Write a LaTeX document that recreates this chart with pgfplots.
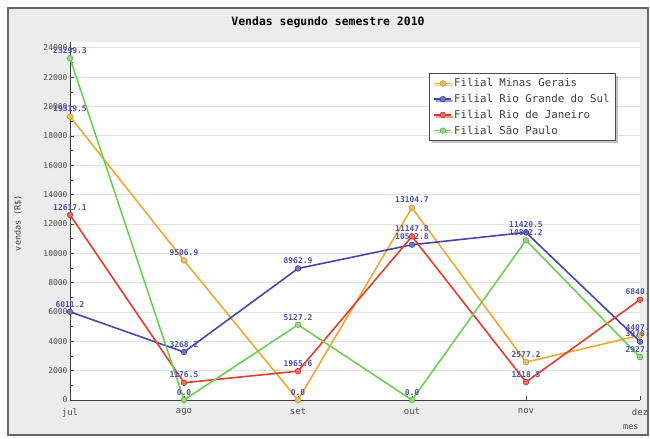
\documentclass[border=0pt]{standalone}
\usepackage{pgfplots}
\pgfplotsset{compat=1.18}
\usepackage{fontspec}
\setmainfont{DejaVu Sans Mono}
\usetikzlibrary{shadows}

\definecolor{framegray}{RGB}{236,236,236}
\definecolor{mgcol}{RGB}{238,168,52}
\definecolor{rgcol}{RGB}{72,72,172}
\definecolor{rjcol}{RGB}{226,62,46}
\definecolor{spcol}{RGB}{112,204,84}
\definecolor{lblcol}{RGB}{82,82,170}

\pgfplotsset{
  serie/.style={line width=1.6bp, color=#1, mark=*, mark size=2.8bp,
    mark options={fill=#1!75!white, draw=#1!85!black, line width=0.6bp}},
}

\begin{document}
\begin{tikzpicture}
% page and chart frame
\fill[white] (-70bp,-39bp) rectangle (580bp,400bp);
\filldraw[fill=framegray, draw=black!60, line width=1.6bp] (-62bp,-35bp) rectangle (578bp,392bp);
\node[font=\bfseries\fontsize{11.5}{13}\selectfont] at (258bp,378bp) {Vendas segundo semestre 2010};

\begin{axis}[
  scale only axis, width=570bp, height=358bp,
  at={(0,0)}, anchor=south west,
  xmin=0, xmax=5, ymin=0, ymax=24400,
  clip=false,
  axis background/.style={fill=white},
  axis x line=bottom, axis y line=left,
  axis line style={-, black!75, line width=0.8bp},
  xtick={0,...,5},
  xticklabels={jul,ago,set,out,nov,dez},
  ytick={0,2000,...,24000},
  scaled y ticks=false,
  minor y tick num=1,
  tick align=inside,
  major tick length=4bp, minor tick length=3bp,
  tick style={black!75, line width=0.7bp},
  ymajorgrids,
  grid style={black!12, line width=0.8bp},
  /pgf/number format/assume math mode=true,
  /pgf/number format/1000 sep={},
  x tick label style={font=\fontsize{9}{10}\selectfont, text=black!70, yshift=-5bp},
  y tick label style={font=\fontsize{8}{9}\selectfont, text=black!70, xshift=1bp},
  nodes near coords={\pgfmathprintnumber[fixed,fixed zerofill,precision=1,1000 sep={}]{\pgfplotspointmeta}},
  every node near coord/.append style={font=\bfseries\fontsize{8}{9}\selectfont, text=lblcol, anchor=south, yshift=1bp},
  legend style={at={(rel axis cs:0.63,0.913)}, anchor=north west,
    draw=black!70, line width=0.9bp, fill=white,
    drop shadow={shadow xshift=2bp, shadow yshift=-2bp, fill=black!45},
    font=\fontsize{10.8}{11}\selectfont, text=black!75,
    row sep=2bp, inner xsep=4bp, inner ysep=3bp},
  legend cell align=left,
]
\addplot[serie=mgcol] coordinates {(0,19319.5) (1,9506.9) (2,0.0) (3,13104.7) (4,2577.2) (5,4407.6)};
\addlegendentry{Filial Minas Gerais}
\addplot[serie=rgcol] coordinates {(0,6011.2) (1,3268.2) (2,8962.9) (3,10582.8) (4,11420.5) (5,3978.4)};
\addlegendentry{Filial Rio Grande do Sul}
\addplot[serie=rjcol] coordinates {(0,12617.1) (1,1176.5) (2,1965.6) (3,11147.8) (4,1218.5) (5,6840.5)};
\addlegendentry{Filial Rio de Janeiro}
\addplot[serie=spcol] coordinates {(0,23299.3) (1,0.0) (2,5127.2) (3,0.0) (4,10882.2) (5,2927.0)};
\addlegendentry{Filial São Paulo}
\end{axis}

\node[rotate=90, font=\fontsize{8.5}{9}\selectfont, text=black!75] at (-52bp,177bp) {vendas (R\$)};
\node[font=\fontsize{8.5}{9}\selectfont, text=black!75, anchor=east] at (572bp,-27bp) {mes};

\pgfresetboundingbox
\path (-70bp,-39bp) rectangle (580bp,400bp);
\end{tikzpicture}
\end{document}
